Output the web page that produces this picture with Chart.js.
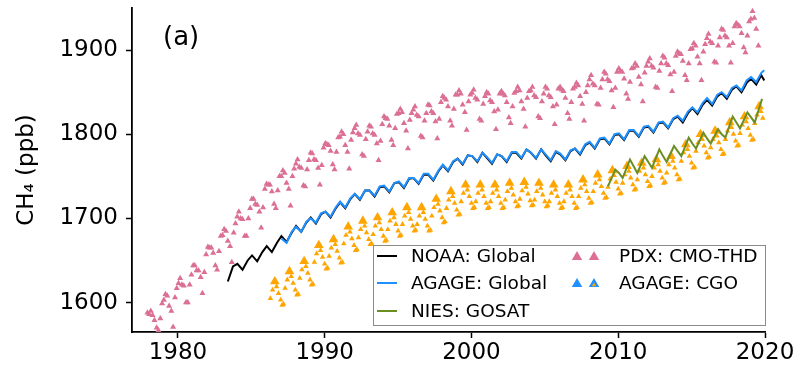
<!DOCTYPE html>
<html>
<head>
<meta charset="utf-8">
<script src="https://cdn.jsdelivr.net/npm/chart.js@4.4.1/dist/chart.umd.min.js"></script>
<style>
  html, body { margin: 0; padding: 0; background: #fff; }
  #wrap { width: 799px; height: 372px; }
</style>
</head>
<body>
<div id="wrap"><canvas id="ch4" width="799" height="372"></canvas></div>
<script>
// ticks
const xTicks = [1980, 1990, 2000, 2010, 2020];
const yTicks = [1600, 1700, 1800, 1900];

// NOAA global, [year, Jan, May, Oct]
const noaaMonths = [0.05, 0.4, 0.75];
const noaaRows = [
  [1983, null, 1625, 1643], [1984, 1646, 1639, 1650], [1985, 1656, 1649, 1660],
  [1986, 1667, 1660, 1671], [1987, 1679, 1672, 1683], [1988, 1691, 1684, 1695],
  [1989, 1701, 1694, 1705], [1990, 1708, 1701, 1712], [1991, 1719, 1712, 1723],
  [1992, 1729, 1722, 1733], [1993, 1733, 1726, 1737], [1994, 1738, 1731, 1742],
  [1995, 1743, 1736, 1747], [1996, 1748, 1741, 1752], [1997, 1752, 1745, 1756],
  [1998, 1763, 1756, 1767], [1999, 1771, 1764, 1775], [2000, 1774, 1767, 1778],
  [2001, 1772, 1765, 1776], [2002, 1774, 1767, 1778], [2003, 1778, 1771, 1782],
  [2004, 1778, 1771, 1782], [2005, 1775, 1768, 1779], [2006, 1776, 1769, 1780],
  [2007, 1783, 1776, 1787], [2008, 1790, 1783, 1794], [2009, 1795, 1788, 1799],
  [2010, 1800, 1793, 1804], [2011, 1804, 1797, 1808], [2012, 1809, 1802, 1813],
  [2013, 1814, 1807, 1818], [2014, 1821, 1814, 1825], [2015, 1831, 1824, 1835],
  [2016, 1841, 1834, 1845], [2017, 1849, 1842, 1853], [2018, 1857, 1850, 1861],
  [2019, 1866, 1859, 1870]
];
const noaaTail = [[2019.95, 1864]];

// AGAGE global
const agageMonths = [0.05, 0.4, 0.75];
const agageRows = [
  [1987, 1676, 1671, 1684], [1988, 1690, 1684, 1696], [1989, 1700, 1695, 1706],
  [1990, 1708, 1702, 1713], [1991, 1720, 1713, 1724], [1992, 1729, 1723, 1733],
  [1993, 1733, 1727, 1738], [1994, 1739, 1732, 1742], [1995, 1744, 1737, 1748],
  [1996, 1748, 1742, 1753], [1997, 1753, 1746, 1757], [1998, 1764, 1757, 1768],
  [1999, 1771, 1765, 1775], [2000, 1774, 1768, 1778], [2001, 1773, 1766, 1776],
  [2002, 1774, 1768, 1779], [2003, 1779, 1772, 1782], [2004, 1778, 1772, 1782],
  [2005, 1776, 1769, 1780], [2006, 1777, 1770, 1781], [2007, 1783, 1777, 1788],
  [2008, 1791, 1784, 1795], [2009, 1796, 1789, 1800], [2010, 1801, 1794, 1805],
  [2011, 1805, 1798, 1809], [2012, 1810, 1803, 1814], [2013, 1815, 1808, 1819],
  [2014, 1822, 1816, 1827], [2015, 1832, 1826, 1837], [2016, 1843, 1836, 1847],
  [2017, 1850, 1844, 1855], [2018, 1858, 1852, 1864], [2019, 1868, 1862, 1873]
];
const agageTail = [[2019.95, 1876]];

// NIES GOSAT
const gosatMonths = [0.05, 0.3, 0.8];
const gosatRows = [
  [2009, null, 1738, 1758], [2010, 1754, 1748, 1770], [2011, 1762, 1754, 1774],
  [2012, 1767, 1760, 1782], [2013, 1774, 1767, 1786], [2014, 1780, 1774, 1796],
  [2015, 1789, 1783, 1802], [2016, 1795, 1789, 1806], [2017, 1800, 1796, 1821],
  [2018, 1814, 1807, 1826], [2019, 1820, 1814, 1842]
];

// PDX: CMO-THD
const pdxMonths = [0.04, 0.15, 0.27, 0.4, 0.55, 0.67, 0.8, 0.92];
const pdxRows = [
  [1977, null, null, null, null, null, null, null, 1588],
  [1978, 1586, 1590, 1585, 1579, 1570, 1567, 1581, 1599],
  [1979, 1603, 1610, 1608, 1596, 1590, 1571, 1606, 1617],
  [1980, 1623, 1629, 1621, 1620, 1600, 1600, 1621, 1633],
  [1981, 1644, 1644, 1638, 1638, 1630, 1611, 1636, 1657],
  [1982, 1666, 1665, 1665, 1659, 1644, 1639, 1661, 1679],
  [1983, 1680, 1687, 1685, 1673, 1667, 1648, 1683, 1694],
  [1984, 1702, 1708, 1700, 1699, 1679, 1679, 1700, 1712],
  [1985, 1723, 1723, 1717, 1716, 1708, 1689, 1713, 1735],
  [1986, 1741, 1740, 1740, 1732, 1717, 1712, 1733, 1750],
  [1987, 1750, 1757, 1754, 1742, 1735, 1715, 1750, 1759],
  [1988, 1765, 1770, 1761, 1760, 1739, 1738, 1758, 1769],
  [1989, 1778, 1777, 1770, 1769, 1760, 1740, 1763, 1784],
  [1990, 1789, 1788, 1787, 1780, 1764, 1758, 1779, 1796],
  [1991, 1797, 1803, 1800, 1787, 1779, 1759, 1793, 1802],
  [1992, 1807, 1811, 1801, 1799, 1776, 1774, 1794, 1803],
  [1993, 1810, 1809, 1801, 1799, 1789, 1769, 1792, 1812],
  [1994, 1821, 1819, 1818, 1810, 1793, 1787, 1807, 1824],
  [1995, 1825, 1830, 1826, 1813, 1804, 1783, 1817, 1825],
  [1996, 1829, 1833, 1823, 1821, 1798, 1796, 1816, 1825],
  [1997, 1835, 1834, 1827, 1825, 1815, 1795, 1818, 1838],
  [1998, 1845, 1843, 1841, 1833, 1816, 1810, 1830, 1847],
  [1999, 1847, 1852, 1848, 1835, 1826, 1805, 1839, 1847],
  [2000, 1849, 1853, 1843, 1841, 1818, 1816, 1836, 1845],
  [2001, 1850, 1848, 1840, 1838, 1827, 1806, 1829, 1848],
  [2002, 1851, 1848, 1846, 1838, 1820, 1813, 1833, 1849],
  [2003, 1851, 1856, 1852, 1839, 1830, 1809, 1843, 1851],
  [2004, 1852, 1856, 1846, 1844, 1821, 1819, 1839, 1848],
  [2005, 1856, 1854, 1846, 1844, 1833, 1812, 1835, 1854],
  [2006, 1856, 1853, 1851, 1843, 1825, 1818, 1838, 1854],
  [2007, 1856, 1861, 1858, 1845, 1836, 1816, 1850, 1858],
  [2008, 1865, 1870, 1860, 1858, 1836, 1835, 1855, 1865],
  [2009, 1874, 1872, 1865, 1863, 1852, 1832, 1855, 1874],
  [2010, 1878, 1875, 1874, 1866, 1848, 1842, 1862, 1878],
  [2011, 1879, 1884, 1881, 1868, 1859, 1839, 1873, 1881],
  [2012, 1886, 1890, 1881, 1879, 1856, 1855, 1875, 1884],
  [2013, 1893, 1891, 1884, 1882, 1871, 1851, 1874, 1893],
  [2014, 1898, 1896, 1895, 1887, 1870, 1864, 1884, 1901],
  [2015, 1902, 1908, 1905, 1892, 1884, 1864, 1898, 1907],
  [2016, 1914, 1919, 1910, 1908, 1886, 1885, 1905, 1915],
  [2017, 1925, 1924, 1917, 1915, 1905, 1885, 1908, 1928],
  [2018, 1932, 1930, 1928, 1920, 1903, 1897, 1917, 1934],
  [2019, 1937, 1946, 1938, 1925, 1905, null, null, null]
];

// AGAGE: CGO, big markers at the yearly peak, small ones for the rest
const cgoPeakMonth = 0.6;
const cgoPeakYears = [1986, 1987, 1988, 1989, 1990, 1991, 1992, 1993, 1994, 1995, 1996, 1997,
  1998, 1999, 2000, 2001, 2002, 2003, 2004, 2005, 2006, 2007, 2008, 2009, 2010, 2011, 2012,
  2013, 2014, 2015, 2016, 2017, 2018, 2019];
const cgoPeaks = [1625, 1637, 1649, 1668, 1675, 1690, 1697, 1701, 1707, 1713, 1713, 1723,
  1732, 1740, 1740, 1740, 1742, 1743, 1742, 1740, 1740, 1746, 1752, 1757, 1762, 1766, 1770,
  1774, 1788, 1800, 1804, 1814, 1821, 1833];
const cgoMonths = [0.0, 0.1, 0.2, 0.3, 0.45, 0.72, 0.85];
const cgoRows = [
  [1986, null, null, null, 1605, 1615, 1619, 1611],
  [1987, 1603, 1597, 1598, 1617, 1627, 1631, 1623],
  [1988, 1615, 1609, 1610, 1629, 1639, 1643, 1635],
  [1989, 1627, 1621, 1622, 1648, 1658, 1662, 1654],
  [1990, 1646, 1640, 1641, 1655, 1665, 1669, 1661],
  [1991, 1653, 1647, 1648, 1670, 1680, 1684, 1676],
  [1992, 1668, 1662, 1663, 1677, 1687, 1691, 1683],
  [1993, 1675, 1669, 1670, 1681, 1691, 1695, 1687],
  [1994, 1679, 1673, 1674, 1687, 1697, 1701, 1693],
  [1995, 1685, 1679, 1680, 1693, 1703, 1707, 1699],
  [1996, 1691, 1685, 1686, 1693, 1703, 1707, 1699],
  [1997, 1691, 1685, 1686, 1703, 1713, 1717, 1709],
  [1998, 1701, 1695, 1696, 1712, 1722, 1726, 1718],
  [1999, 1710, 1704, 1705, 1720, 1730, 1734, 1726],
  [2000, 1718, 1712, 1713, 1720, 1730, 1734, 1726],
  [2001, 1718, 1712, 1713, 1720, 1730, 1734, 1726],
  [2002, 1718, 1712, 1713, 1722, 1732, 1736, 1728],
  [2003, 1720, 1714, 1715, 1723, 1733, 1737, 1729],
  [2004, 1721, 1715, 1716, 1722, 1732, 1736, 1728],
  [2005, 1720, 1714, 1715, 1720, 1730, 1734, 1726],
  [2006, 1718, 1712, 1713, 1720, 1730, 1734, 1726],
  [2007, 1718, 1712, 1713, 1726, 1736, 1740, 1732],
  [2008, 1724, 1718, 1719, 1732, 1742, 1746, 1738],
  [2009, 1730, 1724, 1725, 1737, 1747, 1751, 1743],
  [2010, 1735, 1729, 1730, 1742, 1752, 1756, 1748],
  [2011, 1740, 1734, 1735, 1746, 1756, 1760, 1752],
  [2012, 1744, 1738, 1739, 1750, 1760, 1764, 1756],
  [2013, 1748, 1742, 1743, 1754, 1764, 1768, 1760],
  [2014, 1752, 1746, 1747, 1768, 1778, 1782, 1774],
  [2015, 1766, 1760, 1761, 1780, 1790, 1794, 1786],
  [2016, 1778, 1772, 1773, 1784, 1794, 1798, 1790],
  [2017, 1782, 1776, 1777, 1794, 1804, 1808, 1800],
  [2018, 1792, 1786, 1787, 1801, 1811, 1815, 1807],
  [2019, 1799, 1793, 1794, 1813, 1823, 1827, 1819]
];

const BLACK = '#000000';
const BLUE = '#1e90ff';
const GREEN = '#6b8e23';
const PINK = '#db7093';
const ORANGE = '#ffa500';
const FONT = "'DejaVu Sans', sans-serif";

function rowsToPoints(rows, months) {
  const pts = [];
  rows.forEach(r => {
    months.forEach((m, i) => {
      if (r[i + 1] !== null) pts.push({ x: r[0] + m, y: r[i + 1] });
    });
  });
  return pts;
}

const tailPoints = arr => arr.map(p => ({ x: p[0], y: p[1] }));

function lineSet(label, data, color, order) {
  return {
    label, data, order,
    showLine: true,
    borderColor: color,
    backgroundColor: color,
    borderWidth: 2,
    pointRadius: 0,
    tension: 0,
  };
}

function markerSet(label, data, color, radius, order) {
  return {
    label, data, order,
    showLine: false,
    pointStyle: 'triangle',
    pointRadius: radius,
    pointBackgroundColor: color,
    pointBorderWidth: 0,
    pointBorderColor: color,
  };
}

function tri(ctx, cx, cy, r, color) {
  ctx.beginPath();
  ctx.moveTo(cx, cy - r);
  ctx.lineTo(cx + r * 0.866, cy + r * 0.5);
  ctx.lineTo(cx - r * 0.866, cy + r * 0.5);
  ctx.closePath();
  ctx.fillStyle = color;
  ctx.fill();
}

// no extra label padding, the layout padding handles it
function noPad(s) {
  s.paddingTop = 0; s.paddingBottom = 0;
  s.paddingLeft = 0; s.paddingRight = 0;
}

// panel label and the two-column legend
const extras = {
  id: 'extras',
  afterDraw(chart) {
    const { ctx, chartArea: ca } = chart;
    ctx.save();
    ctx.fillStyle = '#000';
    ctx.font = `26px ${FONT}`;
    ctx.textBaseline = 'alphabetic';
    ctx.fillText('(a)', ca.left + 31, ca.top + 37);

    const w = 392, h = 80;
    const bx = ca.right - w, by = ca.bottom - 7 - h;
    ctx.fillStyle = 'rgba(255,255,255,0.9)';
    ctx.fillRect(bx, by, w, h);
    ctx.strokeStyle = '#8a8a8a';
    ctx.lineWidth = 1;
    ctx.strokeRect(bx + 0.5, by + 0.5, w, h);

    const rowY = [by + 11, by + 38, by + 66];
    const lines = [['NOAA: Global', BLACK], ['AGAGE: Global', BLUE], ['NIES: GOSAT', GREEN]];
    ctx.font = `18.5px ${FONT}`;
    ctx.textBaseline = 'middle';
    lines.forEach(([txt, c], i) => {
      ctx.strokeStyle = c;
      ctx.lineWidth = 2;
      ctx.beginPath();
      ctx.moveTo(bx + 4, rowY[i]);
      ctx.lineTo(bx + 24, rowY[i]);
      ctx.stroke();
      ctx.fillStyle = '#000';
      ctx.fillText(txt, bx + 38, rowY[i] + 1);
    });

    tri(ctx, bx + 204, rowY[0] + 1, 6, PINK);
    tri(ctx, bx + 221, rowY[0] + 1, 6, PINK);
    tri(ctx, bx + 204, rowY[1] + 1, 6, BLUE);
    tri(ctx, bx + 221, rowY[1] + 1, 6, BLUE);
    tri(ctx, bx + 221, rowY[1] + 2, 2.6, ORANGE);
    ctx.fillStyle = '#000';
    ctx.fillText('PDX: CMO-THD', bx + 246, rowY[0] + 1);
    ctx.fillText('AGAGE: CGO', bx + 246, rowY[1] + 1);
    ctx.restore();
  }
};

const cgoBig = cgoPeakYears.map((yr, i) => ({ x: yr + cgoPeakMonth, y: cgoPeaks[i] }));

new Chart(document.getElementById('ch4'), {
  type: 'scatter',
  data: {
    datasets: [
      lineSet('NOAA: Global', rowsToPoints(noaaRows, noaaMonths).concat(tailPoints(noaaTail)), BLACK, 3),
      lineSet('AGAGE: Global', rowsToPoints(agageRows, agageMonths).concat(tailPoints(agageTail)), BLUE, 2),
      lineSet('NIES: GOSAT', rowsToPoints(gosatRows, gosatMonths), GREEN, 1),
      markerSet('PDX: CMO-THD', rowsToPoints(pdxRows, pdxMonths), PINK, 3.5, 6),
      markerSet('AGAGE: CGO', cgoBig, ORANGE, 5.6, 4),
      markerSet('AGAGE: CGO small', rowsToPoints(cgoRows, cgoMonths), ORANGE, 3.2, 5),
    ]
  },
  options: {
    responsive: false,
    animation: false,
    devicePixelRatio: 1,
    layout: { padding: { left: 0, top: 8, right: 34, bottom: 0 } },
    plugins: { legend: { display: false }, tooltip: { enabled: false } },
    scales: {
      x: {
        type: 'linear',
        min: 1976.87, max: 2020,
        afterBuildTicks: s => { s.ticks = xTicks.map(v => ({ value: v })); },
        afterFit: s => { s.height = 40; noPad(s); },
        ticks: { color: '#000', font: { family: FONT, size: 23 }, padding: 1, maxRotation: 0,
          callback: v => String(v) },
        grid: { drawOnChartArea: false, drawTicks: true, tickLength: 6, tickColor: '#000', tickWidth: 1.5 },
        border: { display: true, color: '#000', width: 1.8 }
      },
      y: {
        min: 1565, max: 1950,
        afterBuildTicks: s => { s.ticks = yTicks.map(v => ({ value: v })); },
        afterFit: s => { s.width = 132; noPad(s); },
        ticks: { color: '#000', font: { family: FONT, size: 23 }, padding: 8,
          callback: v => String(v) },
        grid: { drawOnChartArea: false, drawTicks: true, tickLength: 6, tickColor: '#000', tickWidth: 1.5 },
        border: { display: true, color: '#000', width: 1.8 },
        title: { display: true, text: 'CH₄ (ppb)', color: '#000',
          font: { family: FONT, size: 23 }, padding: { top: 13, bottom: 0 } }
      }
    }
  },
  plugins: [extras]
});
</script>
</body>
</html>
